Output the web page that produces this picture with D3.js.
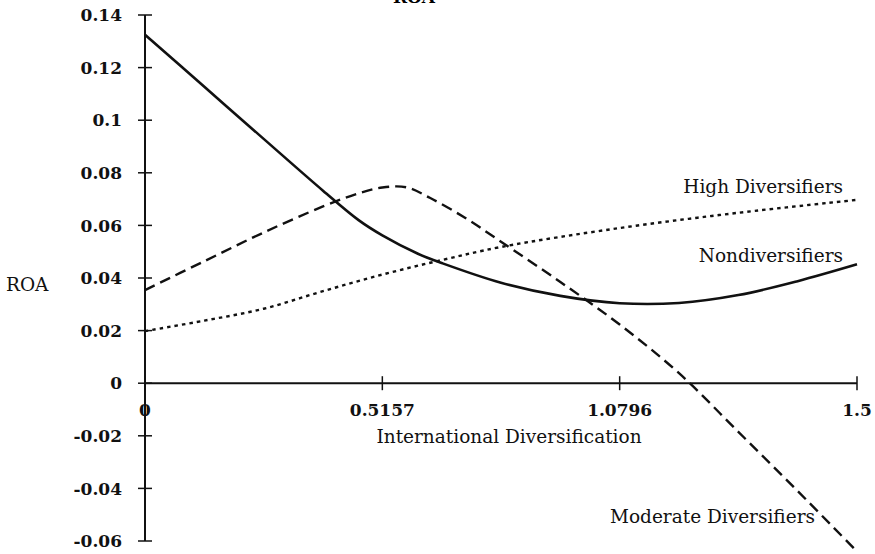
<!DOCTYPE html>
<html><head><meta charset="utf-8">
<script src="https://cdn.jsdelivr.net/npm/d3@7"></script>
<style>body{margin:0;background:#fff}</style>
</head><body>
<svg id="c" width="875" height="554"></svg>
<script>
// x positions are expressed as category-axis position (0..3), ticks labelled below
const xTickPos = [0, 1, 2, 3];
const xTickLabels = ["0", "0.5157", "1.0796", "1.5"];
const yTicks = [0.14, 0.12, 0.1, 0.08, 0.06, 0.04, 0.02, 0, -0.02, -0.04, -0.06];
const yTickLabels = ["0.14", "0.12", "0.1", "0.08", "0.06", "0.04", "0.02", "0", "-0.02", "-0.04", "-0.06"];

const nonX = [0, 0.25, 0.5, 0.75, 0.9, 1, 1.15, 1.25, 1.5, 1.75, 2, 2.25, 2.5, 2.75, 3];
const nonY = [0.1325, 0.1127, 0.0929, 0.0732, 0.0620, 0.0562, 0.0492, 0.0457, 0.0382, 0.0332, 0.0304, 0.0305, 0.0335, 0.0388, 0.0452];

const modX = [0, 0.25, 0.5, 0.75, 0.9, 1, 1.1, 1.2, 1.35, 1.5, 1.75, 2, 2.25, 2.5, 2.75, 3];
const modY = [0.0354, 0.0464, 0.0573, 0.0672, 0.0722, 0.0744, 0.0745, 0.0705, 0.0628, 0.0538, 0.0385, 0.0223, 0.0038, -0.0185, -0.041, -0.064];

const highX = [0, 0.25, 0.5, 0.75, 1, 1.25, 1.5, 2, 2.5, 3];
const highY = [0.0198, 0.0238, 0.0283, 0.0350, 0.0413, 0.0468, 0.0518, 0.059, 0.0648, 0.0697];

const svg = d3.select("#c");
const x = d3.scaleLinear().domain([0, 3]).range([145, 857]);
const y = d3.scaleLinear().domain([-0.06, 0.14]).range([541, 15]);
const serif = "'DejaVu Serif', serif";

// y axis
svg.append("line").attr("x1", x(0)).attr("x2", x(0)).attr("y1", y(0.14)).attr("y2", y(-0.06))
  .attr("stroke", "#111").attr("stroke-width", 2);
yTicks.forEach((v, i) => {
  svg.append("line").attr("x1", x(0) - 7).attr("x2", x(0) + 7).attr("y1", y(v)).attr("y2", y(v))
    .attr("stroke", "#111").attr("stroke-width", 1.5);
  svg.append("text").attr("x", 122).attr("y", y(v)).attr("dy", "0.36em")
    .attr("text-anchor", "end").attr("font-family", serif).attr("font-weight", "bold")
    .attr("font-size", 17).attr("fill", "#111").text(yTickLabels[i]);
});
// x axis
svg.append("line").attr("x1", x(0)).attr("x2", x(3)).attr("y1", y(0)).attr("y2", y(0))
  .attr("stroke", "#111").attr("stroke-width", 2);
xTickPos.forEach((p, i) => {
  svg.append("line").attr("x1", x(p)).attr("x2", x(p)).attr("y1", y(0) - 7).attr("y2", y(0) + 7)
    .attr("stroke", "#111").attr("stroke-width", 1.5);
  svg.append("text").attr("x", x(p)).attr("y", 416).attr("text-anchor", "middle")
    .attr("font-family", serif).attr("font-weight", "bold").attr("font-size", 17)
    .attr("fill", "#111").text(xTickLabels[i]);
});

const line = d3.line().x(d => x(d[0])).y(d => y(d[1])).curve(d3.curveCatmullRom.alpha(0.5));
function draw(xs, ys, dash, w) {
  svg.append("path").datum(xs.map((v, i) => [v, ys[i]])).attr("d", line)
    .attr("fill", "none").attr("stroke", "#111").attr("stroke-width", w)
    .attr("stroke-dasharray", dash);
}
draw(nonX, nonY, null, 2.6);
draw(modX, modY, "11,6", 2.4);
draw(highX, highY, "3.5,4", 2.4);

function label(t, px, py, anchor) {
  svg.append("text").attr("x", px).attr("y", py).attr("text-anchor", anchor || "start")
    .attr("font-family", serif).attr("font-size", 18.5).attr("fill", "#111").text(t);
}
label("High Diversifiers", 843, 193, "end");
label("Nondiversifiers", 843, 262, "end");
label("Moderate Diversifiers", 815, 523, "end");
label("ROA", 6, 291);
label("International Diversification", 509, 443, "middle");
svg.append("text").attr("x", 414).attr("y", 3).attr("text-anchor", "middle")
  .attr("font-family", serif).attr("font-weight", "bold").attr("font-size", 17).text("ROA");
</script>
</body></html>
